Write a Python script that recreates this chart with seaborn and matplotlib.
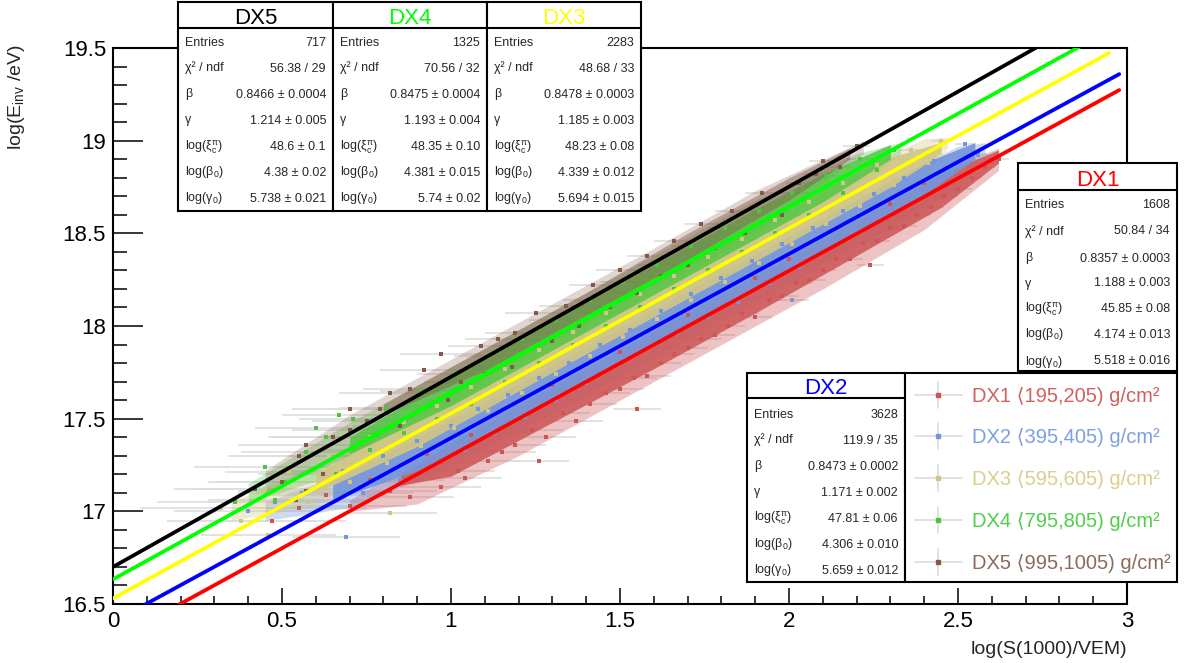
import matplotlib
matplotlib.use("Agg")
import numpy as np
import pandas as pd
import matplotlib.pyplot as plt
from matplotlib.patches import Rectangle
from matplotlib.ticker import MultipleLocator, FuncFormatter
import seaborn as sns

# ---------------------------------------------------------------- data
series = ["DX1", "DX2", "DX3", "DX4", "DX5"]
depth_lo = [195, 395, 595, 795, 995]
depth_hi = [205, 405, 605, 805, 1005]

# fitted calibration curves (start / end of the drawn range)
fit_x0 = [0.0, 0.0, 0.0, 0.0, 0.0]
fit_x1 = [2.977, 2.977, 2.947, 2.98, 2.98]
fit_y0 = [16.302, 16.403, 16.53, 16.633, 16.70]
fit_y1 = [19.273, 19.359, 19.473, 19.628, 19.757]

# dense core of each event cloud: x nodes with lower / upper edge
dx1_bx = [0.85, 1.0, 1.3, 1.6, 1.9, 2.2, 2.45, 2.62]
dx1_lo = [17.14, 17.19, 17.48, 17.77, 18.07, 18.38, 18.64, 18.88]
dx1_hi = [17.20, 17.37, 17.67, 17.97, 18.27, 18.57, 18.82, 18.95]
dx2_bx = [0.65, 0.9, 1.2, 1.5, 1.8, 2.1, 2.4, 2.55]
dx2_lo = [17.06, 17.22, 17.51, 17.81, 18.11, 18.41, 18.71, 18.90]
dx2_hi = [17.16, 17.40, 17.69, 17.99, 18.29, 18.58, 18.88, 18.99]
dx3_bx = [0.6, 0.9, 1.2, 1.5, 1.8, 2.1, 2.3, 2.45]
dx3_lo = [17.10, 17.35, 17.65, 17.95, 18.25, 18.55, 18.75, 18.93]
dx3_hi = [17.20, 17.52, 17.82, 18.12, 18.42, 18.72, 18.91, 18.99]
dx4_bx = [0.7, 1.0, 1.3, 1.6, 1.9, 2.1, 2.3]
dx4_lo = [17.31, 17.57, 17.87, 18.17, 18.47, 18.67, 18.90]
dx4_hi = [17.40, 17.72, 18.03, 18.33, 18.63, 18.82, 18.98]
dx5_bx = [0.8, 1.1, 1.4, 1.7, 2.0, 2.18]
dx5_lo = [17.52, 17.76, 18.06, 18.36, 18.68, 18.90]
dx5_hi = [17.58, 17.88, 18.18, 18.50, 18.80, 18.96]

# sparse fringe around each cloud: x nodes with lower / upper edge
dx1_ox = [0.7, 0.9, 1.2, 1.5, 1.8, 2.1, 2.4, 2.62]
dx1_olo = [17.00, 17.04, 17.30, 17.60, 17.90, 18.20, 18.52, 18.84]
dx1_ohi = [17.06, 17.28, 17.58, 17.88, 18.18, 18.48, 18.80, 18.96]
dx2_ox = [0.45, 0.7, 1.0, 1.3, 1.6, 1.9, 2.2, 2.5, 2.58]
dx2_olo = [16.95, 17.02, 17.24, 17.53, 17.83, 18.13, 18.43, 18.74, 18.93]
dx2_ohi = [17.05, 17.22, 17.50, 17.80, 18.10, 18.40, 18.70, 18.97, 18.99]
dx3_ox = [0.35, 0.6, 0.9, 1.2, 1.5, 1.8, 2.1, 2.4, 2.47]
dx3_olo = [16.95, 17.03, 17.28, 17.58, 17.88, 18.18, 18.48, 18.80, 18.96]
dx3_ohi = [17.05, 17.25, 17.56, 17.86, 18.16, 18.46, 18.76, 19.01, 19.02]
dx4_ox = [0.4, 0.7, 1.0, 1.3, 1.6, 1.9, 2.2, 2.33]
dx4_olo = [17.05, 17.22, 17.50, 17.80, 18.10, 18.40, 18.72, 18.93]
dx4_ohi = [17.15, 17.48, 17.78, 18.08, 18.38, 18.68, 18.93, 18.99]
dx5_ox = [0.45, 0.7, 1.0, 1.3, 1.6, 1.9, 2.22]
dx5_olo = [17.10, 17.30, 17.58, 17.88, 18.18, 18.50, 18.93]
dx5_ohi = [17.22, 17.52, 17.82, 18.12, 18.42, 18.73, 19.00]

# individual events (log S1000, log E) with their x uncertainty
dx1_x = [0.47, 0.55, 0.63, 0.70, 0.76, 0.82, 0.88, 0.93, 0.97, 1.02,
         1.04, 1.06, 1.11, 1.15, 1.19, 1.24, 1.26, 1.28, 1.30, 1.33,
         1.37, 1.41, 1.46, 1.50, 1.50, 1.54, 1.55, 1.58, 1.62, 1.66,
         1.70, 1.70, 1.74, 1.78, 1.82, 1.86, 1.90, 1.90, 1.94, 1.98,
         2.00, 2.02, 2.06, 2.10, 2.14, 2.18, 2.22, 2.24, 2.26, 2.30,
         2.30, 2.34, 2.38, 2.40, 2.42, 2.46, 2.50, 2.54, 2.56, 2.58, 2.62]
dx1_y = [16.95, 17.02, 17.09, 17.03, 17.17, 17.11, 17.08, 17.31, 17.13, 17.22,
         17.18, 17.41, 17.27, 17.32, 17.36, 17.44, 17.27, 17.40, 17.68, 17.53,
         17.49, 17.58, 17.64, 17.66, 17.86, 17.72, 17.55, 17.73, 17.80, 17.85,
         17.88, 18.06, 17.93, 17.95, 18.00, 18.07, 18.05, 18.26, 18.14, 18.16,
         18.36, 18.23, 18.25, 18.30, 18.36, 18.36, 18.45, 18.33, 18.46, 18.53,
         18.66, 18.54, 18.60, 18.77, 18.64, 18.70, 18.74, 18.80, 18.93, 18.86, 18.90]
dx1_xerr = [0.22, 0.20, 0.18, 0.17, 0.15, 0.14, 0.13, 0.12, 0.12, 0.11,
            0.11, 0.10, 0.10, 0.10, 0.09, 0.09, 0.09, 0.09, 0.08, 0.08,
            0.08, 0.08, 0.07, 0.07, 0.07, 0.07, 0.07, 0.07, 0.06, 0.06,
            0.06, 0.06, 0.06, 0.06, 0.05, 0.05, 0.05, 0.05, 0.05, 0.05,
            0.05, 0.05, 0.05, 0.04, 0.04, 0.04, 0.04, 0.04, 0.04, 0.04,
            0.04, 0.04, 0.04, 0.04, 0.04, 0.04, 0.04, 0.03, 0.03, 0.03, 0.03]

dx2_x = [0.40, 0.48, 0.56, 0.62, 0.68, 0.69, 0.74, 0.80, 0.85, 0.90,
         0.95, 1.00, 1.04, 1.08, 1.13, 1.17, 1.22, 1.26, 1.31, 1.35,
         1.40, 1.44, 1.49, 1.53, 1.58, 1.62, 1.67, 1.71, 1.76, 1.80,
         1.85, 1.89, 1.94, 1.98, 2.01, 2.03, 2.07, 2.12, 2.16, 2.21,
         2.25, 2.30, 2.34, 2.39, 2.43, 2.48, 2.52, 2.56]
dx2_y = [17.00, 17.05, 17.10, 17.20, 17.22, 16.86, 17.10, 17.30, 17.17, 17.38,
         17.26, 17.46, 17.33, 17.55, 17.42, 17.63, 17.51, 17.72, 17.60, 17.80,
         17.69, 17.90, 17.79, 17.98, 17.88, 18.08, 17.96, 18.17, 18.05, 18.26,
         18.13, 18.35, 18.23, 18.44, 18.14, 18.32, 18.53, 18.42, 18.62, 18.51,
         18.71, 18.60, 18.80, 18.70, 18.89, 18.82, 18.98, 18.92]
dx2_xerr = [0.22, 0.20, 0.19, 0.18, 0.17, 0.16, 0.15, 0.14, 0.13, 0.12,
            0.12, 0.11, 0.10, 0.10, 0.10, 0.09, 0.09, 0.09, 0.08, 0.08,
            0.08, 0.07, 0.07, 0.07, 0.07, 0.06, 0.06, 0.06, 0.06, 0.05,
            0.05, 0.05, 0.05, 0.05, 0.05, 0.05, 0.04, 0.04, 0.04, 0.04,
            0.04, 0.04, 0.04, 0.04, 0.03, 0.03, 0.03, 0.03]

dx3_x = [0.32, 0.38, 0.45, 0.46, 0.52, 0.58, 0.64, 0.70, 0.76, 0.81,
         0.82, 0.86, 0.91, 0.96, 1.01, 1.06, 1.11, 1.16, 1.21, 1.26,
         1.31, 1.36, 1.41, 1.46, 1.51, 1.56, 1.61, 1.66, 1.71, 1.76,
         1.81, 1.86, 1.91, 1.96, 2.01, 2.06, 2.11, 2.16, 2.21, 2.26,
         2.31, 2.36, 2.41, 2.45]
dx3_y = [17.02, 16.95, 17.12, 16.87, 17.21, 17.05, 17.30, 17.16, 17.40, 17.26,
         16.99, 17.48, 17.35, 17.57, 17.45, 17.67, 17.54, 17.77, 17.64, 17.87,
         17.74, 17.97, 17.84, 18.07, 17.94, 18.17, 18.04, 18.27, 18.14, 18.37,
         18.24, 18.47, 18.34, 18.57, 18.44, 18.67, 18.55, 18.77, 18.65, 18.87,
         18.76, 18.95, 18.88, 19.00]
dx3_xerr = [0.24, 0.22, 0.21, 0.20, 0.19, 0.18, 0.17, 0.16, 0.15, 0.14,
            0.14, 0.13, 0.12, 0.12, 0.11, 0.10, 0.10, 0.09, 0.09, 0.09,
            0.08, 0.08, 0.08, 0.07, 0.07, 0.07, 0.06, 0.06, 0.06, 0.06,
            0.05, 0.05, 0.05, 0.05, 0.05, 0.04, 0.04, 0.04, 0.04, 0.04,
            0.04, 0.03, 0.03, 0.03]

dx4_x = [0.36, 0.45, 0.48, 0.51, 0.57, 0.60, 0.63, 0.66, 0.67, 0.71,
         0.76, 0.81, 0.86, 0.91, 0.96, 1.01, 1.06, 1.11, 1.16, 1.21,
         1.26, 1.31, 1.36, 1.41, 1.46, 1.51, 1.56, 1.61, 1.66, 1.71,
         1.76, 1.81, 1.86, 1.91, 1.96, 2.01, 2.06, 2.11, 2.16, 2.21,
         2.26, 2.31]
dx4_y = [17.05, 17.24, 17.06, 17.16, 17.32, 17.45, 17.40, 17.20, 17.52, 17.50,
         17.33, 17.56, 17.42, 17.65, 17.50, 17.74, 17.58, 17.84, 17.70, 17.93,
         17.80, 18.03, 17.90, 18.14, 18.00, 18.24, 18.10, 18.33, 18.20, 18.43,
         18.30, 18.53, 18.40, 18.62, 18.50, 18.72, 18.60, 18.81, 18.72, 18.90,
         18.84, 18.95]
dx4_xerr = [0.23, 0.21, 0.20, 0.20, 0.19, 0.18, 0.17, 0.17, 0.17, 0.16,
            0.15, 0.14, 0.13, 0.12, 0.12, 0.11, 0.10, 0.10, 0.09, 0.09,
            0.09, 0.08, 0.08, 0.08, 0.07, 0.07, 0.07, 0.06, 0.06, 0.06,
            0.06, 0.05, 0.05, 0.05, 0.05, 0.05, 0.04, 0.04, 0.04, 0.04,
            0.04, 0.03]

dx5_x = [0.42, 0.50, 0.54, 0.55, 0.57, 0.57, 0.62, 0.65, 0.70, 0.70,
         0.75, 0.79, 0.82, 0.85, 0.88, 0.92, 0.97, 0.99, 1.03, 1.09,
         1.10, 1.14, 1.18, 1.19, 1.25, 1.30, 1.34, 1.38, 1.42, 1.47,
         1.50, 1.55, 1.58, 1.62, 1.66, 1.70, 1.74, 1.78, 1.83, 1.87,
         1.92, 1.98, 2.03, 2.08, 2.10, 2.15, 2.20]
dx5_y = [17.12, 17.16, 17.06, 17.30, 17.36, 17.11, 17.20, 17.40, 17.55, 17.44,
         17.49, 17.55, 17.64, 17.46, 17.66, 17.76, 17.85, 17.60, 17.70, 17.89,
         17.74, 17.93, 17.78, 17.96, 18.07, 17.92, 18.11, 18.00, 18.22, 18.10,
         18.30, 18.18, 18.38, 18.27, 18.46, 18.33, 18.55, 18.42, 18.62, 18.50,
         18.72, 18.60, 18.77, 18.82, 18.89, 18.86, 18.97]
dx5_xerr = [0.24, 0.22, 0.21, 0.21, 0.20, 0.20, 0.19, 0.18, 0.17, 0.17,
            0.16, 0.15, 0.15, 0.14, 0.14, 0.13, 0.12, 0.12, 0.11, 0.10,
            0.10, 0.10, 0.09, 0.09, 0.09, 0.08, 0.08, 0.08, 0.07, 0.07,
            0.07, 0.07, 0.06, 0.06, 0.06, 0.06, 0.05, 0.05, 0.05, 0.05,
            0.05, 0.04, 0.04, 0.04, 0.04, 0.04, 0.04]

# fit statistics
entries = ["1608", "3628", "2283", "1325", "717"]
chi2_ndf = ["50.84 / 34", "119.9 / 35", "48.68 / 33", "70.56 / 32", "56.38 / 29"]
beta = ["0.8357 ± 0.0003", "0.8473 ± 0.0002", "0.8478 ± 0.0003", "0.8475 ± 0.0004", "0.8466 ± 0.0004"]
gamma = ["1.188 ± 0.003", "1.171 ± 0.002", "1.185 ± 0.003", "1.193 ± 0.004", "1.214 ± 0.005"]
log_xi = ["45.85 ± 0.08", "47.81 ± 0.06", "48.23 ± 0.08", "48.35 ± 0.10", "48.6 ± 0.1"]
log_beta0 = ["4.174 ± 0.013", "4.306 ± 0.010", "4.339 ± 0.012", "4.381 ± 0.015", "4.38 ± 0.02"]
log_gamma0 = ["5.518 ± 0.016", "5.659 ± 0.012", "5.694 ± 0.015", "5.74 ± 0.02", "5.738 ± 0.021"]

# ---------------------------------------------------------------- style
point_colors = ["#cd5555", "#7496dc", "#d2c686", "#4cc63f", "#85584a"]
legend_colors = ["#d45f5f", "#7f9fe0", "#d9cf8e", "#4fcf48", "#8c6a5c"]
fit_colors = ["#ff0000", "#0000ff", "#ffff00", "#00ff00", "#000000"]
title_colors = ["#ff0000", "#0000ff", "#ffff00", "#00ff00", "#000000"]
core_alpha = [0.85, 0.92, 0.9, 0.8, 0.45]
fringe_alpha = [0.35, 0.35, 0.35, 0.3, 0.25]

sns.set_theme(style="ticks")
plt.rcParams["font.family"] = ["Liberation Sans", "DejaVu Sans"]
plt.rcParams["mathtext.fontset"] = "custom"
plt.rcParams["mathtext.rm"] = "Liberation Sans"
plt.rcParams["mathtext.it"] = "Liberation Sans:italic"
plt.rcParams["mathtext.bf"] = "Liberation Sans:bold"
plt.rcParams["mathtext.fallback"] = "stixsans"

W, H = 1200, 663
fig = plt.figure(figsize=(W / 100, H / 100), dpi=100)
ax = fig.add_axes([113 / W, 59 / H, 1014 / W, 556 / H])

cores = [(dx1_bx, dx1_lo, dx1_hi), (dx2_bx, dx2_lo, dx2_hi), (dx3_bx, dx3_lo, dx3_hi),
         (dx4_bx, dx4_lo, dx4_hi), (dx5_bx, dx5_lo, dx5_hi)]
fringes = [(dx1_ox, dx1_olo, dx1_ohi), (dx2_ox, dx2_olo, dx2_ohi), (dx3_ox, dx3_olo, dx3_ohi),
           (dx4_ox, dx4_olo, dx4_ohi), (dx5_ox, dx5_olo, dx5_ohi)]
events = [(dx1_x, dx1_y, dx1_xerr), (dx2_x, dx2_y, dx2_xerr), (dx3_x, dx3_y, dx3_xerr),
          (dx4_x, dx4_y, dx4_xerr), (dx5_x, dx5_y, dx5_xerr)]

# horizontal uncertainties behind everything
for (ex, ey, exe) in events:
    ax.errorbar(ex, ey, xerr=exe, fmt="none", ecolor="#dedede", elinewidth=1.2,
                capsize=0, zorder=1)

# sparse outskirts first, dense cores on top
for i in range(len(series)):
    fx, flo, fhi = fringes[i]
    ax.fill_between(fx, flo, fhi, color=point_colors[i], alpha=fringe_alpha[i],
                    linewidth=0, zorder=1.5)
for i in range(len(series)):
    bx, lo, hi = cores[i]
    ax.fill_between(bx, lo, hi, color=point_colors[i], alpha=core_alpha[i],
                    linewidth=0, zorder=2)

for i, name in enumerate(series):
    ex, ey, _ = events[i]
    df = pd.DataFrame({"x": ex, "y": ey})
    sns.scatterplot(data=df, x="x", y="y", color=point_colors[i], marker="s", s=11,
                    linewidth=0, ax=ax, zorder=3, legend=False)

fit_df = pd.DataFrame({
    "series": [s for s in series for _ in range(2)],
    "x": [v for a, b in zip(fit_x0, fit_x1) for v in (a, b)],
    "y": [v for a, b in zip(fit_y0, fit_y1) for v in (a, b)],
})
sns.lineplot(data=fit_df, x="x", y="y", hue="series", palette=fit_colors,
             linewidth=2.7, estimator=None, sort=False, legend=False, ax=ax, zorder=4)

ax.set_xlim(0, 3)
ax.set_ylim(16.5, 19.5)
ax.set_xlabel("")
ax.set_ylabel("")
ax.xaxis.set_major_locator(MultipleLocator(0.5))
ax.xaxis.set_minor_locator(MultipleLocator(0.1))
ax.yaxis.set_major_locator(MultipleLocator(0.5))
ax.yaxis.set_minor_locator(MultipleLocator(0.1))
fmt = FuncFormatter(lambda v, p: f"{v:g}")
ax.xaxis.set_major_formatter(fmt)
ax.yaxis.set_major_formatter(fmt)
ax.tick_params(axis="x", which="major", direction="in", length=11.5, width=1.1,
               labelsize=16, pad=5, color="black", labelcolor="black")
ax.tick_params(axis="x", which="minor", direction="in", length=5.8, width=1.1, color="black")
ax.tick_params(axis="y", which="major", direction="in", length=21.6, width=1.1,
               labelsize=16, pad=5, color="black", labelcolor="black")
ax.tick_params(axis="y", which="minor", direction="in", length=10, width=1.1, color="black")
for sp in ax.spines.values():
    sp.set_visible(True)
    sp.set_linewidth(1.5)
    sp.set_color("black")
ax.set_facecolor("white")

# ---------------------------------------------------------------- annotation layer in pixel units
ov = fig.add_axes([0, 0, 1, 1], zorder=10)
ov.set_xlim(0, W)
ov.set_ylim(H, 0)
ov.axis("off")
ov.patch.set_alpha(0)

ov.text(1127, 650, "log(S(1000)/VEM)", fontsize=14, ha="right", va="center")
ov.text(17, 44, r"log(E$_{\mathregular{inv}}$ /eV)", fontsize=14, ha="center", va="top",
        rotation=90)

row_labels = ["Entries", "χ² / ndf", "β", "γ",
              r"log($\mathregular{ξ_c^π}$)", r"log($\mathregular{β_0}$)",
              r"log($\mathregular{γ_0}$)"]


def stat_box(i, x0, x1, y0, yh, y1, rows_y):
    ov.add_patch(Rectangle((x0, y0), x1 - x0, y1 - y0, facecolor="white",
                           edgecolor="black", linewidth=1.5, zorder=1))
    ov.plot([x0, x1], [yh, yh], color="black", linewidth=1.5, zorder=2)
    ov.text((x0 + x1) / 2, yh - 4, series[i], color=title_colors[i], fontsize=16,
            ha="center", va="baseline", zorder=3)
    vals = [entries[i], chi2_ndf[i], beta[i], gamma[i], log_xi[i], log_beta0[i], log_gamma0[i]]
    for yy, lab, val in zip(rows_y, row_labels, vals):
        ov.text(x0 + 7, yy + 4.5, lab, fontsize=9, ha="left", va="baseline", zorder=3)
        ov.text(x1 - 7, yy + 4.5, val, fontsize=9, ha="right", va="baseline", zorder=3)


top_rows = [42, 67, 93, 119, 146, 171, 197]
stat_box(4, 178, 333, 2, 28, 211, top_rows)
stat_box(3, 333, 487, 2, 28, 211, top_rows)
stat_box(2, 487, 641, 2, 28, 211, top_rows)
stat_box(0, 1018, 1177, 163, 190, 371, [203, 230, 257, 282, 308, 333, 360])
stat_box(1, 747, 905, 373, 398, 582, [413, 439, 465, 491, 517, 543, 569])

# legend
ov.add_patch(Rectangle((905, 373), 272, 209, facecolor="white", edgecolor="black",
                       linewidth=1.5, zorder=1))
entry_y = [395, 436, 478, 520, 562]
for i, yy in enumerate(entry_y):
    ov.plot([915, 962], [yy, yy], color="#dcdcdc", linewidth=1.2, zorder=2)
    ov.plot([938, 938], [yy - 13, yy + 13], color="#dcdcdc", linewidth=1.2, zorder=2)
    ov.plot([938], [yy], marker="s", markersize=2.5, color=point_colors[i],
            linestyle="none", zorder=3)
    ov.text(972, yy + 7, f"{series[i]} ⟨{depth_lo[i]},{depth_hi[i]}) g/cm²",
            color=legend_colors[i], fontsize=14.5, ha="left", va="baseline", zorder=3)

fig.savefig("out.png", dpi=100)
